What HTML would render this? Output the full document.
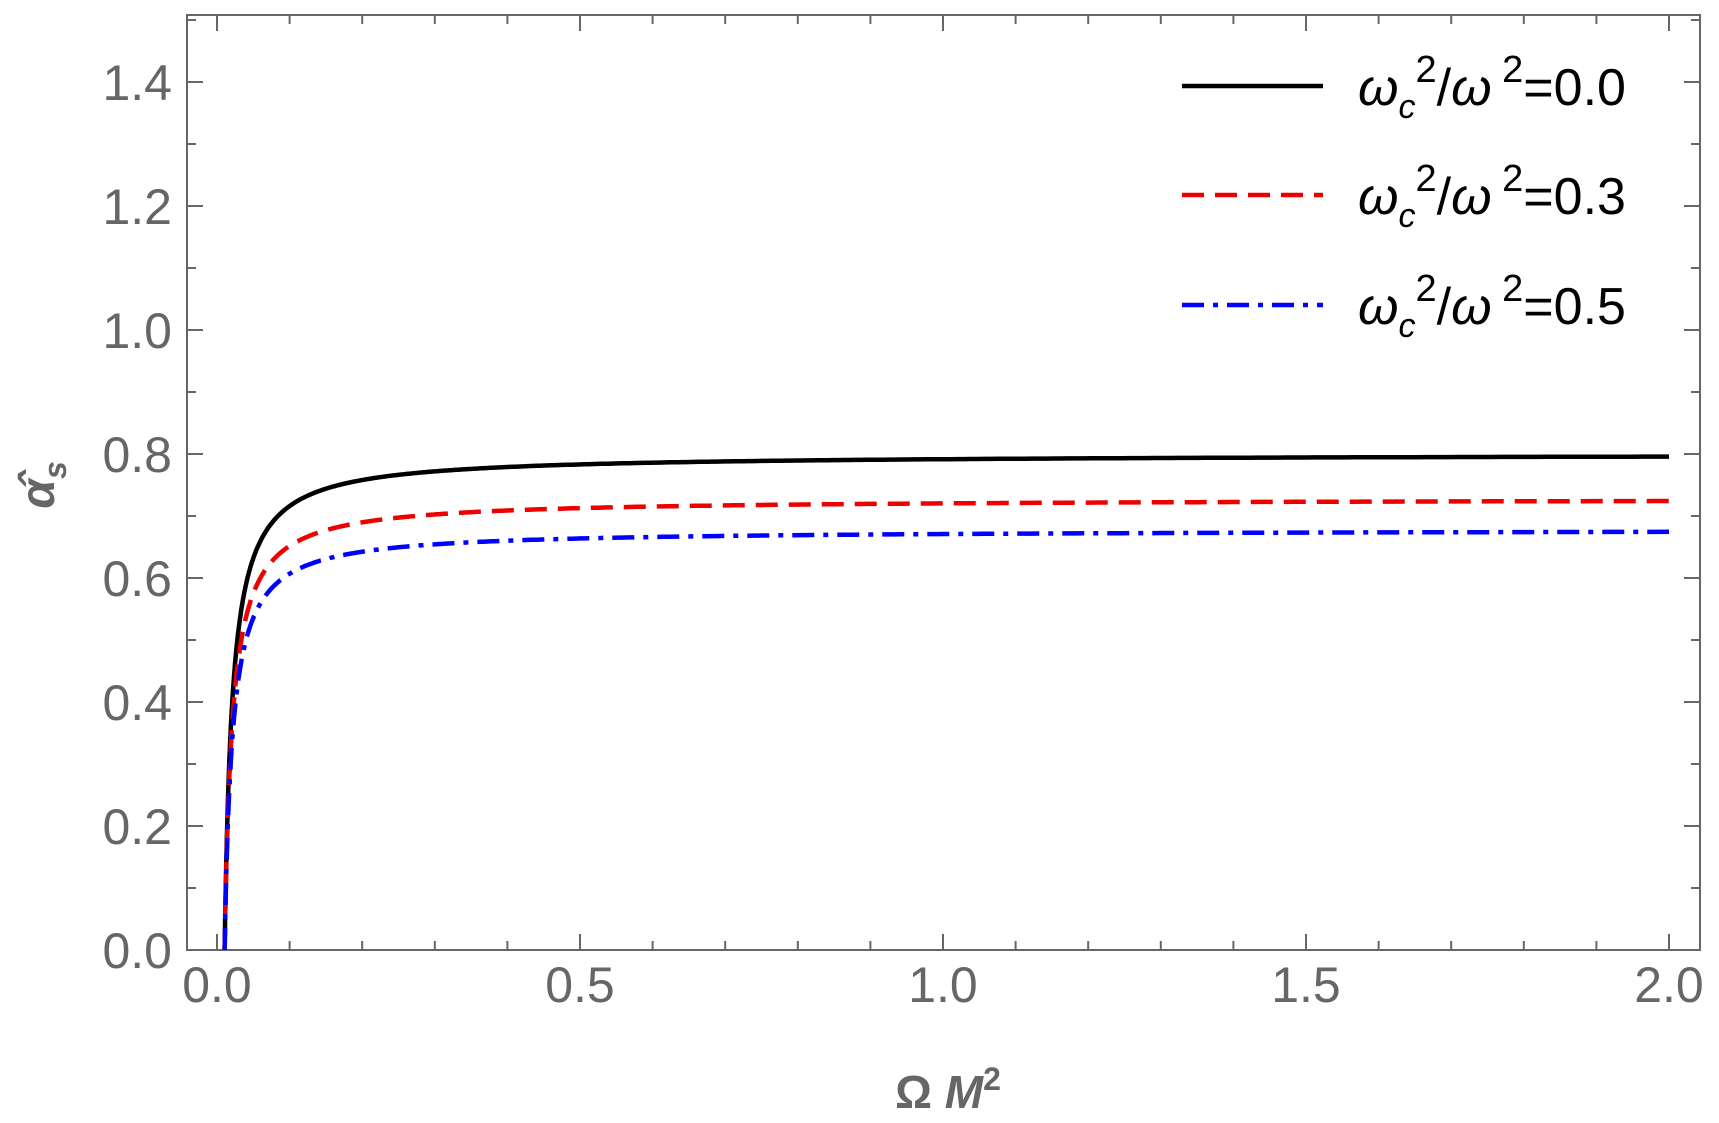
<!DOCTYPE html>
<html><head><meta charset="utf-8"><style>
html,body{margin:0;padding:0;background:#fff;}
svg{display:block;}
text{font-family:"Liberation Sans",Arial,sans-serif;}
</style></head><body>
<svg id="s" width="1719" height="1123" xmlns="http://www.w3.org/2000/svg">
<rect x="187" y="15" width="1513" height="935" fill="none" stroke="#666" stroke-width="2"/>
<g id="ticks" stroke="#666" stroke-width="2"></g>
<g id="labels" fill="#666" font-size="50"></g>
<g id="curves" fill="none" stroke-width="4.5"></g>
<text x="948" y="1108" text-anchor="middle" font-size="46" font-weight="bold" fill="#666">Ω <tspan font-style="italic">M</tspan><tspan dy="-18" font-size="32">2</tspan></text>
<g transform="translate(54,485) rotate(-90)"><text x="0" y="0" text-anchor="middle" font-size="48" font-weight="bold" font-style="italic" fill="#666">α̂<tspan dy="12" font-size="32">s</tspan></text></g>
<g font-size="52" fill="#000" font-style="normal">
<line x1="1182" y1="86" x2="1323" y2="86" stroke="#000" stroke-width="4.5"/>
<line x1="1182" y1="195" x2="1323" y2="195" stroke="#e00" stroke-width="4.5" stroke-dasharray="22,11"/>
<line x1="1182" y1="305" x2="1323" y2="305" stroke="#00f" stroke-width="4.5" stroke-dasharray="22,9,5,9"/>
<text x="1358" y="105"><tspan font-style="italic">ω</tspan><tspan dy="13" font-size="34" font-style="italic">c</tspan><tspan dy="-36" font-size="38">2</tspan><tspan dy="23">/</tspan><tspan font-style="italic">ω</tspan><tspan dy="-23" font-size="38"> 2</tspan><tspan dy="23">=0.0</tspan></text>
<text x="1358" y="214"><tspan font-style="italic">ω</tspan><tspan dy="13" font-size="34" font-style="italic">c</tspan><tspan dy="-36" font-size="38">2</tspan><tspan dy="23">/</tspan><tspan font-style="italic">ω</tspan><tspan dy="-23" font-size="38"> 2</tspan><tspan dy="23">=0.3</tspan></text>
<text x="1358" y="324"><tspan font-style="italic">ω</tspan><tspan dy="13" font-size="34" font-style="italic">c</tspan><tspan dy="-36" font-size="38">2</tspan><tspan dy="23">/</tspan><tspan font-style="italic">ω</tspan><tspan dy="-23" font-size="38"> 2</tspan><tspan dy="23">=0.5</tspan></text>
</g>
</svg>
<script>
var NS="http://www.w3.org/2000/svg";
function X(v){return 217+726*v;} function Y(v){return 950-620*v;}
var t=document.getElementById('ticks'),l=document.getElementById('labels'),c=document.getElementById('curves');
function ln(g,a,b,cc,d){var e=document.createElementNS(NS,'line');e.setAttribute('x1',a);e.setAttribute('y1',b);e.setAttribute('x2',cc);e.setAttribute('y2',d);g.appendChild(e);}
function tx(s,x,y,anc){var e=document.createElementNS(NS,'text');e.setAttribute('x',x);e.setAttribute('y',y);e.setAttribute('text-anchor',anc);e.textContent=s;l.appendChild(e);}
for(var i=0;i<=20;i++){var x=X(i/10),len=(i%5==0)?16:9;ln(t,x,950,x,950-len);ln(t,x,15,x,15+len);if(i%5==0)tx((i/10).toFixed(1),x,1002,'middle');}
for(var j=0;j<=15;j++){var y=Y(j/10),len=(j%2==0)?16:9;if(j>0)ln(t,187,y,187+len,y);ln(t,1700,y,1700-len,y);if(j%2==0&&j<=14)tx((j/10).toFixed(1),172,y+18,'end');}
function curve(A,col,dash){var d='',x0=0.0105;for(var k=0;k<=600;k++){var x=x0*Math.pow(2/x0,k/600);var v=A*(1-x0/x);d+=(k?'L':'M')+X(x).toFixed(1)+','+Y(v).toFixed(1);}var p=document.createElementNS(NS,'path');p.setAttribute('d',d);p.setAttribute('stroke',col);if(dash)p.setAttribute('stroke-dasharray',dash);c.appendChild(p);}
curve(0.8,'#000',null);curve(0.728,'#e00','22,11');curve(0.678,'#00f','22,9,5,9');
</script>
</body></html>
